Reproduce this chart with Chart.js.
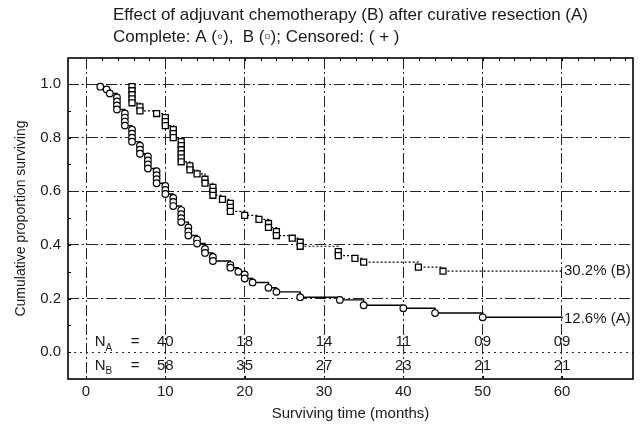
<!DOCTYPE html>
<html><head><meta charset="utf-8">
<script src="https://cdn.jsdelivr.net/npm/chart.js@4.4.1/dist/chart.umd.min.js"></script>
<style>html,body{margin:0;padding:0;background:#fff}#wrap{width:641px;height:424px}</style>
</head><body><div id="wrap"><canvas id="c" width="641" height="424"></canvas></div>
<script>
// ---- data ----
const titleLines = ['Effect of adjuvant chemotherapy (B) after curative resection (A)',
                    'Complete: A (\u25E6),  B (\u25AB); Censored: ( + )'];
const timesA = [1.8,2.6,3.0,3.9,3.9,3.9,3.9,4.9,4.9,4.9,4.9,5.8,5.8,5.8,5.8,6.8,6.8,6.8,7.8,7.8,7.8,7.8,8.9,8.9,8.9,8.9,10,10,10,11,11,11,12,12,12,12,12.9,12.9,12.9,14,14,15,15,16,16,18.2,18.2,19.2,20,20,21,23,24,27,32,35,40,44,50,60];
const survA  = [0.99,0.98,0.965,0.95,0.935,0.92,0.905,0.89,0.875,0.86,0.845,0.83,0.815,0.80,0.785,0.77,0.755,0.74,0.73,0.715,0.70,0.685,0.675,0.66,0.645,0.63,0.62,0.605,0.59,0.575,0.56,0.545,0.53,0.515,0.50,0.485,0.465,0.45,0.435,0.42,0.405,0.385,0.37,0.355,0.34,0.325,0.315,0.30,0.29,0.275,0.26,0.24,0.225,0.205,0.195,0.175,0.164,0.146,0.13,0.126];
const timesB = [5.8,5.8,5.8,5.8,5.8,6.8,6.8,8.9,10,10,10,11,11,11,12,12,12,12,12,12,13.1,13.1,14,15,15,16,16,16,17.2,18.2,18.2,18.2,20,21.8,23,23,24,24,26,27,27,31.8,31.8,33.9,35,41.9,45,60];
const survB  = [0.99,0.975,0.96,0.945,0.93,0.915,0.90,0.89,0.875,0.86,0.845,0.83,0.815,0.80,0.785,0.77,0.755,0.74,0.725,0.71,0.695,0.68,0.665,0.645,0.63,0.615,0.60,0.585,0.57,0.555,0.54,0.525,0.51,0.495,0.48,0.465,0.45,0.435,0.425,0.41,0.395,0.375,0.36,0.35,0.336,0.317,0.302,0.302];
const riskTimes = [10,20,30,40,50,60];
const riskA = ['40','18','14','11','09','09'];
const riskB = ['58','35','27','23','21','21'];
const xTicks = [0,10,20,30,40,50,60];
const yTicks = [0,0.2,0.4,0.6,0.8,1.0];
const endLabelA = '12.6% (A)';
const endLabelB = '30.2% (B)';
const xTitle = 'Surviving time (months)';
const yTitle = 'Cumulative proportion surviving';

const FONT = '"Liberation Sans", Arial, sans-serif';
const TXT = '#1a1a1a';

const decor = {
  id: 'decor',
  afterDraw(chart) {
    const {ctx, chartArea: a, scales: {x, y}} = chart;
    ctx.save();
    // minor ticks
    ctx.strokeStyle = '#000'; ctx.lineWidth = 1;
    ctx.beginPath();
    for (let m = 0; m <= 68; m += 2) { const px = Math.round(x.getPixelForValue(m)) + 0.5; ctx.moveTo(px, a.top); ctx.lineTo(px, a.top + 3); }
    for (let m = 0; m <= 68; m += 10) { const px = Math.round(x.getPixelForValue(m)) + 0.5; ctx.moveTo(px, a.bottom); ctx.lineTo(px, a.bottom - 3); }
    for (let v = 0; v <= 1.0001; v += 0.1) { const py = Math.round(y.getPixelForValue(v)) + 0.5; ctx.moveTo(a.left, py); ctx.lineTo(a.left + 3, py); }
    ctx.stroke();
    // box
    ctx.lineWidth = 1.6; ctx.strokeStyle = '#000';
    ctx.strokeRect(a.left, a.top, a.right - a.left, a.bottom - a.top);
    // title
    ctx.fillStyle = TXT; ctx.font = '17px ' + FONT; ctx.textBaseline = 'middle'; ctx.textAlign = 'left';
    const cx = (a.left + a.right) / 2;
    const w1 = ctx.measureText(titleLines[0]).width;
    const x0 = cx - w1 / 2;
    ctx.fillText(titleLines[0], x0, 15);
    ctx.fillText(titleLines[1], x0, 37);
    // end labels
    ctx.font = '15px ' + FONT;
    const xe = x.getPixelForValue(60) + 2;
    ctx.fillText(endLabelB, xe, y.getPixelForValue(survB[survB.length - 1]));
    ctx.fillText(endLabelA, xe, y.getPixelForValue(survA[survA.length - 1]));
    // risk table
    const rowA = y.getPixelForValue(0.038), rowB = y.getPixelForValue(-0.05);
    const drawN = (sub, py) => {
      const nx = x.getPixelForValue(1.1);
      ctx.font = '15px ' + FONT; ctx.textAlign = 'left';
      ctx.fillText('N', nx, py);
      const nw = ctx.measureText('N').width;
      ctx.font = '10px ' + FONT;
      ctx.fillText(sub, nx + nw, py + 6);
      ctx.font = '15px ' + FONT; ctx.textAlign = 'center';
      ctx.fillText('=', x.getPixelForValue(6.2), py);
    };
    drawN('A', rowA); drawN('B', rowB);
    ctx.textAlign = 'center';
    riskTimes.forEach((t, i) => {
      ctx.fillText(riskA[i], x.getPixelForValue(t), rowA);
      ctx.fillText(riskB[i], x.getPixelForValue(t), rowB);
    });
    ctx.restore();
  }
};

const lastR = (n, r) => (c) => c.dataIndex === n - 1 ? 0 : r;

new Chart(document.getElementById('c'), {
  type: 'line',
  data: {
    datasets: [
      {
        label: 'A',
        data: timesA.map((t, i) => ({x: t, y: survA[i]})),
        stepped: true,
        borderColor: '#000', borderWidth: 1.4,
        pointStyle: 'circle', pointRadius: lastR(timesA.length, 3.3),
        pointBackgroundColor: '#fff', pointBorderColor: '#000', pointBorderWidth: 1.2,
        fill: false
      },
      {
        label: 'B',
        data: timesB.map((t, i) => ({x: t, y: survB[i]})),
        stepped: true,
        borderColor: '#000', borderWidth: 1.2, borderDash: [2, 2],
        pointStyle: 'rect', pointRadius: lastR(timesB.length, 4.2),
        pointBackgroundColor: '#fff', pointBorderColor: '#000', pointBorderWidth: 1.3,
        fill: false
      }
    ]
  },
  options: {
    responsive: false, animation: false, devicePixelRatio: 1,
    layout: {padding: {top: 58, right: 8, left: 0, bottom: 0}},
    plugins: {legend: {display: false}, tooltip: {enabled: false}},
    scales: {
      x: {
        type: 'linear', min: -2.27, max: 68.95,
        afterBuildTicks: s => { s.ticks = xTicks.map(v => ({value: v})); },
        afterFit: s => { s.height = 45; },
        grid: {color: '#222', lineWidth: 1, drawTicks: false},
        border: {display: false, dash: [11, 3, 2, 3]},
        ticks: {color: TXT, font: {family: FONT, size: 15}, padding: 4, maxRotation: 0, autoSkip: false},
        title: {display: true, text: xTitle, color: TXT, font: {family: FONT, size: 15}, padding: {top: 0, bottom: 1}}
      },
      y: {
        type: 'linear', min: -0.10, max: 1.097,
        afterBuildTicks: s => { s.ticks = yTicks.map(v => ({value: v})); },
        afterFit: s => { s.width = 68; },
        grid: {color: '#222', lineWidth: 1, drawTicks: false},
        border: {display: false, dash: c => (c.tick && Math.abs(c.tick.value) < 1e-9) ? [2, 4] : [11, 3, 2, 3]},
        ticks: {color: TXT, font: {family: FONT, size: 15}, padding: 7, callback: v => Number(v).toFixed(1)},
        title: {display: true, text: yTitle, color: TXT, font: {family: FONT, size: 14}, padding: {top: 13, bottom: 0}}
      }
    }
  },
  plugins: [decor]
});
</script></body></html>
